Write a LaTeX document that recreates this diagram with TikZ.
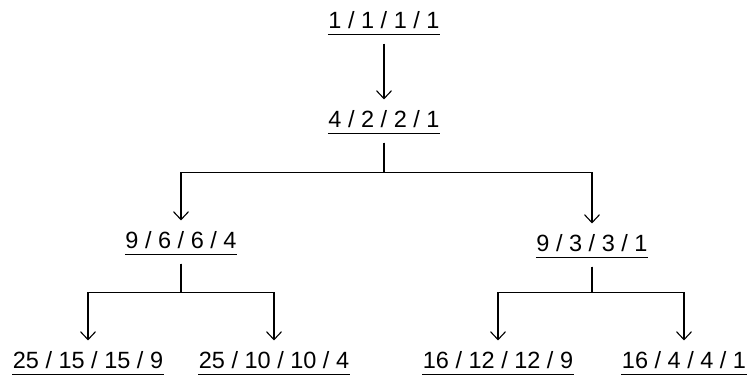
\documentclass[tikz,border=0pt]{standalone}
\usepackage{fontspec}
\setmainfont{Liberation Sans}
\usetikzlibrary{positioning, arrows.meta}

\begin{document}
\begin{tikzpicture}[x=1pt, y=-1pt, line width=1.1pt,
  num/.style={font=\fontsize{23.5}{28}\selectfont, inner xsep=0pt, inner ysep=0pt, text height=17pt, text depth=6pt, anchor=base},
  link/.style={-{Straight Barb[length=8pt, width=15pt, line width=1.1pt]}, shorten <=9pt, shorten >=10pt}]
\useasboundingbox (0,0) rectangle (747,375);

\node[num] (r) at (384,28) {1 / 1 / 1 / 1};
\node[num] (a) at (384,127) {4 / 2 / 2 / 1};
\node[num] (b) at (181,248) {9 / 6 / 6 / 4};
\node[num] (c) at (592,251) {9 / 3 / 3 / 1};
\node[num] (d) at (88,368) {25 / 15 / 15 / 9};
\node[num] (e) at (274,368) {25 / 10 / 10 / 4};
\node[num] (f) at (498,368) {16 / 12 / 12 / 9};
\node[num] (g) at (684,368) {16 / 4 / 4 / 1};

% underlines
\foreach \n in {r,a,b,c,d,e,f,g}
  \draw[line width=1.6pt] (\n.south west) -- (\n.south east);

\draw[link] (r) -- (a);
\draw[link] (a.south) -- ++(0,39) -| (b.north);
\draw[link] (a.south) -- ++(0,39) -| (c.north);
\draw[link] (b.south) -- ++(0,38) -| (d.north);
\draw[link] (b.south) -- ++(0,38) -| (e.north);
\draw[link] (c.south) -- ++(0,35) -| (f.north);
\draw[link] (c.south) -- ++(0,35) -| (g.north);
\end{tikzpicture}
\end{document}
